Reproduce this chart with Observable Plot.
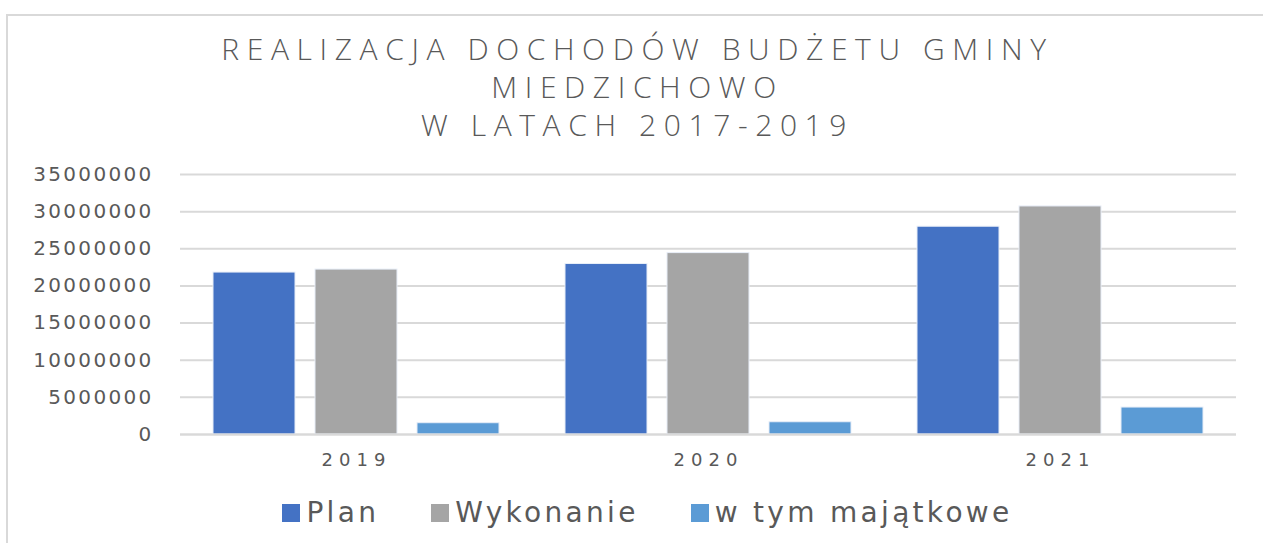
<!DOCTYPE html>
<html>
<head>
<meta charset="utf-8">
<script src="https://cdn.jsdelivr.net/npm/d3@7"></script>
<script src="https://cdn.jsdelivr.net/npm/@observablehq/plot@0.6"></script>
<style>
  html, body { margin: 0; padding: 0; background: #fff; }
  #wrap { position: relative; width: 1263px; height: 543px; overflow: hidden; background: #fff; }
  #frame { position: absolute; left: 6px; top: 14px; width: 1300px; height: 600px; border: 2px solid #d9d9d9; box-sizing: border-box; }
  #title { position: absolute; left: 0; top: 30px; width: 1275px; text-align: center; font-family: "Open Sans", sans-serif; font-weight: 300; font-size: 30px; line-height: 38px; color: #595959; letter-spacing: 7.6px; }
  #chart { position: absolute; left: 0; top: 150px; }
  #legend { position: absolute; left: 0; top: 496px; width: 1295px; display: flex; justify-content: center; align-items: center; font-family: "DejaVu Sans", sans-serif; font-size: 28px; color: #595959; letter-spacing: 3.3px; }
  .item { display: flex; align-items: center; margin: 0 26px; }
  .sw { width: 18px; height: 18px; margin-right: 6px; }
</style>
</head>
<body>
<div id="wrap">
  <div id="frame"></div>
  <div id="title"></div>
  <div id="chart"></div>
  <div id="legend"></div>
</div>
<script>
const titleLines = ["REALIZACJA DOCHODÓW BUDŻETU GMINY", "MIEDZICHOWO", "W LATACH 2017-2019"];
const years = ["2019", "2020", "2021"];
const series = ["Plan", "Wykonanie", "w tym majątkowe"];
const plan = [21800000, 22950000, 27970000];
const wykonanie = [22200000, 24420000, 30700000];
const majatkowe = [1520000, 1650000, 3630000];
const yTicks = [0, 5000000, 10000000, 15000000, 20000000, 25000000, 30000000, 35000000];
const colors = ["#4472C4", "#A5A5A5", "#5B9BD5"];

const valuesBySeries = [plan, wykonanie, majatkowe];
const data = years.flatMap((year, i) =>
  series.map((s, j) => ({ year, series: s, value: valuesBySeries[j][i] }))
);

document.getElementById("title").innerHTML = titleLines.map(t => `<div>${t}</div>`).join("");

const chart = Plot.plot({
  width: 1263,
  height: 329,
  marginTop: 24,
  marginBottom: 45,
  marginLeft: 180,
  marginRight: 27,
  style: { background: "transparent", color: "#595959" },
  fx: { domain: years, padding: 0, label: null, axis: null },
  x: { domain: series, axis: null, paddingInner: 0.2, paddingOuter: 0.31 },
  y: { domain: [0, 35000000], label: null, axis: null },
  color: { domain: series, range: colors },
  marks: [
    Plot.gridY(yTicks, { stroke: "#d9d9d9", strokeOpacity: 1, strokeWidth: 2 }),
    Plot.axisY(yTicks, {
      tickSize: 0, tickPadding: 27, tickFormat: d => String(d), label: null,
      fontSize: 20, fontFamily: "DejaVu Sans", fill: "#595959"
    }),
    Plot.barY(data, { fx: "year", x: "series", y: "value", fill: "series", stroke: "#e8eef8", strokeWidth: 1 }),
    Plot.ruleY([0], { stroke: "#d9d9d9", strokeWidth: 2 }),
    Plot.axisFx({
      anchor: "bottom", tickSize: 0, tickPadding: 19, label: null, fontSize: 18, fontFamily: "DejaVu Sans",
      fill: "#595959"
    })
  ]
});
d3.select(chart).selectAll('g[aria-label="y-axis tick label"] text').attr("letter-spacing", "2.3px");
d3.select(chart).selectAll('g[aria-label="fx-axis tick label"] text').attr("letter-spacing", "6px");
document.getElementById("chart").appendChild(chart);

document.getElementById("legend").innerHTML = series.map((s, i) =>
  `<div class="item"><div class="sw" style="background:${colors[i]}"></div><span>${s}</span></div>`
).join("");
</script>
</body>
</html>
